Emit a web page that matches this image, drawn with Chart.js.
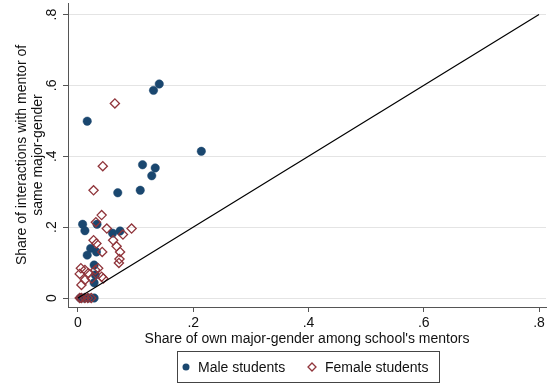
<!DOCTYPE html>
<html>
<head>
<meta charset="utf-8">
<script src="https://cdn.jsdelivr.net/npm/chart.js@4/dist/chart.umd.min.js"></script>
<style>
html,body{margin:0;padding:0;background:#fff;}
#wrap{width:547px;height:386px;}
</style>
</head>
<body>
<div id="wrap"><canvas id="c" width="547" height="386"></canvas></div>
<script>
// ---- data ----
const maleX = [0.016,0.131,0.141,0.214,0.112,0.134,0.128,0.108,0.069,0.008,0.012,0.033,0.060,0.073,0.022,0.016,0.032,0.028,0.030,0.028,0.004,0.010,0.019,0.028];
const maleY = [0.499,0.586,0.604,0.414,0.376,0.367,0.345,0.304,0.297,0.208,0.190,0.208,0.183,0.189,0.140,0.121,0.130,0.093,0.065,0.043,0.000,0.000,0.000,0.000];
const femaleX = [0.064,0.043,0.027,0.041,0.031,0.050,0.093,0.078,0.027,0.032,0.061,0.067,0.042,0.073,0.072,0.071,0.005,0.012,0.003,0.018,0.030,0.035,0.024,0.041,0.044,0.006,0.012,0.003,0.006,0.012,0.017,0.023];
const femaleY = [0.549,0.372,0.304,0.234,0.214,0.196,0.196,0.179,0.163,0.154,0.163,0.146,0.130,0.130,0.110,0.099,0.084,0.079,0.068,0.070,0.079,0.084,0.055,0.060,0.055,0.037,0.051,0.000,0.000,0.000,0.000,0.000];
const diagX = [0, 0.8];
const diagY = [0, 0.8];
const xTickValues = [0, 0.2, 0.4, 0.6, 0.8];
const xTickLabels = ['0', '.2', '.4', '.6', '.8'];
const yTickValues = [0, 0.2, 0.4, 0.6, 0.8];
const yTickLabels = ['0', '.2', '.4', '.6', '.8'];
const seriesLabels = ['Male students', 'Female students'];
const xTitle = "Share of own major-gender among school's mentors";
const yTitle = ['Share of interactions with mentor of', 'same major-gender'];

// ---- styles ----
const NAVY = '#1a476f';
const MAROON = '#90353b';
const FONT = 'Liberation Sans, Arial, Helvetica, sans-serif';
const pts = (xs, ys) => xs.map((x, i) => ({x: x, y: ys[i]}));

Chart.defaults.font.family = FONT;
Chart.defaults.color = '#111';

const yTickPlugin = {
  id: 'yTickLabels',
  afterDraw(chart) {
    const s = chart.scales.y;
    const ctx = chart.ctx;
    ctx.save();
    ctx.fillStyle = '#111';
    ctx.font = '14px ' + FONT;
    ctx.textAlign = 'center';
    ctx.textBaseline = 'middle';
    yTickValues.forEach((v, i) => {
      const py = s.getPixelForValue(v);
      ctx.save();
      ctx.translate(s.right - 16, py);
      ctx.rotate(-Math.PI / 2);
      ctx.fillText(yTickLabels[i], 0, 0);
      ctx.restore();
    });
    ctx.restore();
  }
};

const legendPlugin = {
  id: 'boxLegend',
  afterDraw(chart) {
    const ctx = chart.ctx;
    const ds = chart.data.datasets;
    const top = 351, h = 31, left = 177, w = 262;
    const cy = top + h / 2 + 0.5;
    ctx.save();
    ctx.strokeStyle = '#444';
    ctx.lineWidth = 1;
    ctx.strokeRect(left + 0.5, top + 0.5, w, h);
    ctx.font = '14px ' + FONT;
    ctx.textBaseline = 'middle';
    ctx.textAlign = 'left';
    ctx.fillStyle = '#111';
    ctx.beginPath();
    ctx.arc(186, cy, 3.5, 0, Math.PI * 2);
    ctx.fillStyle = ds[0].backgroundColor;
    ctx.fill();
    ctx.fillStyle = '#111';
    ctx.fillText(ds[0].label, 198, cy + 1);
    const fx = 312, r = 4;
    ctx.beginPath();
    ctx.moveTo(fx, cy - r); ctx.lineTo(fx + r, cy); ctx.lineTo(fx, cy + r); ctx.lineTo(fx - r, cy); ctx.closePath();
    ctx.strokeStyle = ds[1].borderColor;
    ctx.lineWidth = 1.3;
    ctx.stroke();
    ctx.fillStyle = '#111';
    ctx.fillText(ds[1].label, 325, cy + 1);
    ctx.restore();
  }
};

new Chart(document.getElementById('c'), {
  type: 'scatter',
  data: {
    datasets: [
      {
        label: seriesLabels[0],
        data: pts(maleX, maleY),
        pointStyle: 'circle',
        pointRadius: 4.2,
        backgroundColor: NAVY,
        borderColor: NAVY,
        borderWidth: 0.5,
        order: 2
      },
      {
        label: seriesLabels[1],
        data: pts(femaleX, femaleY),
        pointStyle: 'rectRot',
        pointRadius: 4.6,
        backgroundColor: 'rgba(0,0,0,0)',
        borderColor: MAROON,
        borderWidth: 1.3,
        order: 1
      },
      {
        type: 'line',
        label: 'diag',
        data: pts(diagX, diagY),
        borderColor: '#000',
        borderWidth: 1.2,
        pointRadius: 0,
        fill: false,
        order: 0
      }
    ]
  },
  options: {
    responsive: false,
    animation: false,
    devicePixelRatio: 1,
    layout: {autoPadding: false, padding: {top: 3, right: 1, left: 0, bottom: 0}},
    plugins: {legend: {display: false}, tooltip: {enabled: false}},
    scales: {
      x: {
        type: 'linear',
        min: -0.01735,
        max: 0.8121,
        afterBuildTicks: s => { s.ticks = xTickValues.map(v => ({value: v})); },
        afterFit: s => { s.height = 79; s.paddingLeft = 0; s.paddingRight = 0; },
        ticks: {
          callback: (v) => { const i = xTickValues.indexOf(v); return i >= 0 ? xTickLabels[i] : ''; },
          font: {size: 14},
          color: '#111',
          padding: 3,
          maxRotation: 0,
          autoSkip: false
        },
        grid: {drawOnChartArea: false, drawTicks: true, tickLength: 5, tickColor: '#555', lineWidth: 1},
        border: {display: true, color: '#555', width: 1},
        title: {display: true, text: xTitle, font: {size: 14}, color: '#111', padding: {top: 0, bottom: 38.6}}
      },
      y: {
        type: 'linear',
        min: -0.0254,
        max: 0.8326,
        afterBuildTicks: s => { s.ticks = yTickValues.map(v => ({value: v})); },
        afterFit: s => { s.width = 68; s.paddingTop = 0; s.paddingBottom = 0; },
        ticks: {display: false},
        grid: {drawOnChartArea: true, color: '#e4e4e4', lineWidth: 1, drawTicks: true, tickLength: 5, tickColor: '#555'},
        border: {display: true, color: '#555', width: 1},
        title: {display: true, text: yTitle, font: {size: 14, lineHeight: 1.143}, color: '#111', padding: {top: 14, bottom: 0}}
      }
    }
  },
  plugins: [yTickPlugin, legendPlugin]
});
</script>
</body>
</html>
